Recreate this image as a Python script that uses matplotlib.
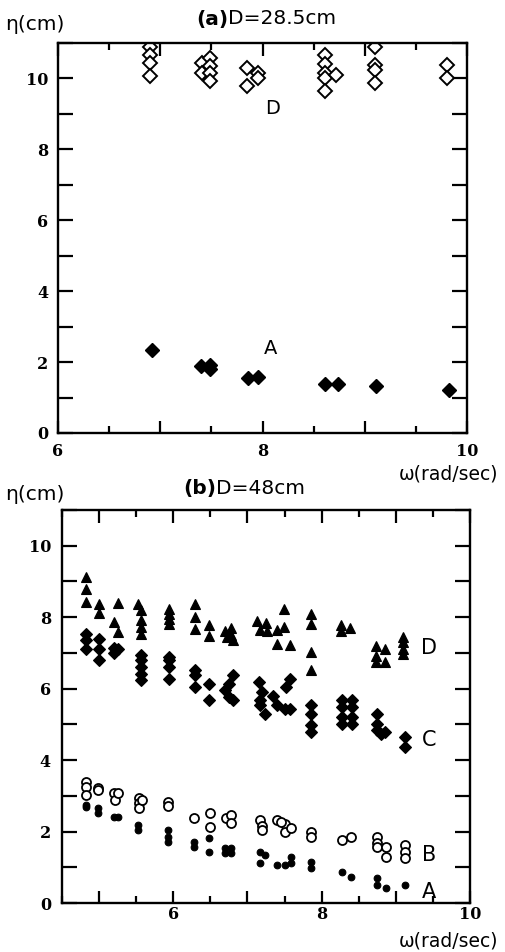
import matplotlib
matplotlib.use("Agg")
import matplotlib.pyplot as plt
from matplotlib.ticker import MultipleLocator, FuncFormatter

# ---------------- data: panel (a) D=28.5cm ----------------
a_A_x = [6.92, 7.40, 7.49, 7.49, 7.86, 7.96, 8.61, 8.74, 9.11, 9.82]
a_A_y = [2.35, 1.88, 1.93, 1.80, 1.56, 1.58, 1.39, 1.39, 1.32, 1.20]

a_D_x = [6.90, 6.90, 6.90, 6.90,
         7.41, 7.41, 7.49, 7.49, 7.49, 7.49,
         7.85, 7.85, 7.96, 7.96,
         8.61, 8.61, 8.61, 8.61, 8.61, 8.72,
         9.10, 9.10, 9.10, 9.10,
         9.80, 9.80]
a_D_y = [10.89, 10.66, 10.43, 10.06,
         10.43, 10.15, 10.57, 10.34, 10.15, 9.92,
         10.29, 9.78, 10.15, 10.01,
         10.66, 10.40, 10.15, 10.00, 9.64, 10.10,
         10.89, 10.38, 10.24, 9.87,
         10.38, 10.01]

# ---------------- data: panel (b) D=48cm ----------------
b_D_x = [4.83, 4.83, 4.83, 5.00, 5.00, 5.26, 5.20, 5.26,
         5.52, 5.56, 5.56, 5.56, 5.56, 5.94, 5.94, 5.94, 5.94,
         6.29, 6.29, 6.29, 6.48, 6.48, 6.70, 6.78, 6.78, 6.72, 6.80,
         7.13, 7.25, 7.17, 7.27, 7.40, 7.49, 7.49, 7.40, 7.58,
         7.86, 7.86, 7.86, 7.86, 8.26, 8.26, 8.38,
         8.73, 8.85, 8.73, 8.73, 8.85, 9.10, 9.10, 9.10, 9.10]
b_D_y = [9.12, 8.79, 8.42, 8.37, 8.11, 8.39, 7.86, 7.58,
         8.37, 8.19, 7.91, 7.72, 7.54, 8.23, 8.09, 7.95, 7.81,
         8.37, 8.00, 7.67, 7.77, 7.46, 7.60, 7.70, 7.50, 7.45, 7.35,
         7.90, 7.85, 7.65, 7.60, 7.63, 8.23, 7.72, 7.26, 7.21,
         8.09, 7.81, 7.02, 6.51, 7.78, 7.60, 7.70,
         7.18, 7.12, 6.90, 6.75, 6.75, 7.44, 7.30, 7.12, 6.98]

b_C_x = [4.83, 4.83, 4.83, 5.00, 5.00, 5.00, 5.20, 5.25, 5.20,
         5.56, 5.56, 5.56, 5.56, 5.56, 5.94, 5.94, 5.94, 5.94,
         6.29, 6.29, 6.29, 6.48, 6.48, 6.80, 6.75, 6.70, 6.75, 6.80,
         7.15, 7.20, 7.17, 7.24, 7.17, 7.35, 7.40, 7.50, 7.58, 7.58, 7.52,
         7.86, 7.86, 7.86, 7.86, 8.28, 8.28, 8.28, 8.28, 8.41, 8.41, 8.41, 8.41,
         8.74, 8.74, 8.74, 8.80, 8.85, 9.13, 9.13]
b_C_y = [7.54, 7.35, 7.12, 7.40, 7.12, 6.79, 7.15, 7.10, 7.00,
         6.93, 6.79, 6.60, 6.42, 6.23, 6.88, 6.79, 6.60, 6.28,
         6.51, 6.37, 6.05, 6.14, 5.67, 6.37, 6.14, 5.95, 5.77, 5.67,
         6.18, 5.90, 5.67, 5.30, 5.53, 5.80, 5.53, 5.44, 5.44, 6.28, 6.05,
         5.53, 5.30, 4.98, 4.79, 5.67, 5.49, 5.20, 5.02, 5.67, 5.49, 5.20, 5.02,
         5.30, 5.02, 4.84, 4.74, 4.80, 4.65, 4.37]

b_B_x = [4.83, 4.83, 4.83, 4.99, 4.99, 5.20, 5.22, 5.25,
         5.54, 5.54, 5.54, 5.58, 5.93, 5.93, 6.28, 6.50, 6.50,
         6.71, 6.78, 6.78, 7.17, 7.20, 7.20, 7.40, 7.50, 7.50, 7.59, 7.45,
         7.86, 7.86, 8.28, 8.39, 8.74, 8.74, 8.74, 8.87, 8.87,
         9.13, 9.13, 9.13]
b_B_y = [3.40, 3.24, 3.02, 3.21, 3.15, 3.09, 2.88, 3.07,
         2.93, 2.79, 2.65, 2.88, 2.84, 2.72, 2.37, 2.51, 2.14,
         2.37, 2.47, 2.23, 2.33, 2.16, 2.03, 2.33, 2.20, 2.00, 2.10, 2.28,
         2.00, 1.86, 1.77, 1.86, 1.86, 1.67, 1.58, 1.58, 1.30,
         1.63, 1.44, 1.26]

b_A_x = [4.83, 4.83, 4.99, 4.99, 5.20, 5.25, 5.52, 5.52,
         5.93, 5.93, 5.93, 6.28, 6.28, 6.48, 6.48,
         6.70, 6.78, 6.70, 6.78, 7.17, 7.17, 7.24,
         7.40, 7.50, 7.59, 7.59, 7.86, 7.86, 8.28, 8.39,
         8.74, 8.74, 8.87, 9.13]
b_A_y = [2.74, 2.70, 2.65, 2.51, 2.42, 2.42, 2.19, 2.05,
         2.05, 1.86, 1.72, 1.72, 1.58, 1.81, 1.44,
         1.53, 1.53, 1.40, 1.40, 1.44, 1.12, 1.35,
         1.07, 1.07, 1.30, 1.12, 1.16, 0.98, 0.88, 0.74,
         0.70, 0.51, 0.42, 0.51]

x_labels_shown = [6, 8, 10]
y_labels_shown = [0, 2, 4, 6, 8, 10]

# ---------------- figure ----------------
W, H = 506, 952
fig = plt.figure(figsize=(W / 100, H / 100), dpi=100, facecolor="white")

SERIF = ["DejaVu Serif"]
SANS = ["DejaVu Sans"]


def style_axes(ax, xlim, xpad, ypad):
    ax.set_xlim(*xlim)
    ax.set_ylim(0, 11)
    for s in ax.spines.values():
        s.set_linewidth(1.7)
    ax.xaxis.set_major_locator(MultipleLocator(1))
    ax.xaxis.set_minor_locator(MultipleLocator(0.5))
    ax.yaxis.set_major_locator(MultipleLocator(1))
    ax.xaxis.set_major_formatter(
        FuncFormatter(lambda v, p: f"{int(round(v))}" if int(round(v)) in x_labels_shown else ""))
    ax.yaxis.set_major_formatter(
        FuncFormatter(lambda v, p: f"{int(round(v))}" if int(round(v)) in y_labels_shown else ""))
    ax.tick_params(axis="x", which="major", direction="in", length=9, width=1.6,
                   top=True, bottom=True, pad=xpad)
    ax.tick_params(axis="x", which="minor", direction="in", length=5, width=1.6,
                   top=True, bottom=True)
    ax.tick_params(axis="y", which="major", direction="in", length=10.5, width=1.6,
                   left=True, right=True, pad=ypad)
    for lab in ax.get_xticklabels() + ax.get_yticklabels():
        lab.set_family(SERIF)
        lab.set_fontweight("bold")
        lab.set_fontsize(11.5)


# panel (a)
ax1 = fig.add_axes([58 / W, 1 - 433 / H, (467 - 58) / W, (433 - 43) / H])
ax1.plot(a_D_x, a_D_y, linestyle="none", marker="D", ms=6.8, mfc="white",
         mec="black", mew=1.4)
ax1.plot(a_A_x, a_A_y, linestyle="none", marker="D", ms=7.0, mfc="black",
         mec="black", mew=1.0)
style_axes(ax1, (6, 10), xpad=7, ypad=7)
ax1.text(8.1, 9.15, "D", fontsize=14, family=SANS, ha="center", va="center")
ax1.text(8.08, 2.39, "A", fontsize=14, family=SANS, ha="center", va="center")

# panel (b)
ax2 = fig.add_axes([62 / W, 1 - 903 / H, (470 - 62) / W, (903 - 510) / H])
ax2.plot(b_D_x, b_D_y, linestyle="none", marker="^", ms=7.2, mfc="black",
         mec="black", mew=0.8)
ax2.plot(b_C_x, b_C_y, linestyle="none", marker="D", ms=6.2, mfc="black",
         mec="black", mew=0.8)
ax2.plot(b_B_x, b_B_y, linestyle="none", marker="o", ms=6.5, mfc="white",
         mec="black", mew=1.3)
ax2.plot(b_A_x, b_A_y, linestyle="none", marker="o", ms=4.8, mfc="black",
         mec="black", mew=0.8)
style_axes(ax2, (4.5, 10), xpad=2, ypad=8)
for lbl, yy in [("D", 7.13), ("C", 4.56), ("B", 1.35), ("A", 0.32)]:
    ax2.text(9.45, yy, lbl, fontsize=15, family=SANS, ha="center", va="center")

# titles and axis labels (figure pixel coordinates)
def ftext(x, y, s, **kw):
    fig.text(x / W, 1 - y / H, s, **kw)

ftext(5, 24, "η(cm)", fontsize=14.5, family=SANS, ha="left", va="center")
ftext(228, 19, "(a)", fontsize=14.5, family=SANS, fontweight="bold", ha="right", va="center")
ftext(228, 19, "D=28.5cm", fontsize=14.5, family=SANS, ha="left", va="center")
ftext(498, 474, "ω(rad/sec)", fontsize=13.5, family=SANS, ha="right", va="center")

ftext(5, 494, "η(cm)", fontsize=14.5, family=SANS, ha="left", va="center")
ftext(216, 489, "(b)", fontsize=14.5, family=SANS, fontweight="bold", ha="right", va="center")
ftext(216, 489, "D=48cm", fontsize=14.5, family=SANS, ha="left", va="center")
ftext(498, 941, "ω(rad/sec)", fontsize=13.5, family=SANS, ha="right", va="center")

fig.savefig("out.png", dpi=100, facecolor="white")
